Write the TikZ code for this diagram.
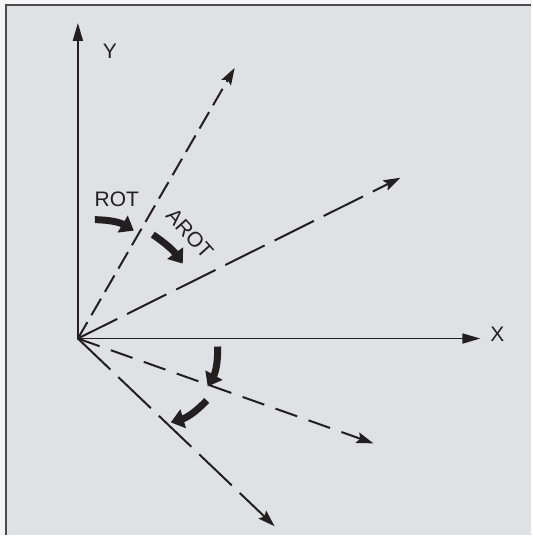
\documentclass[tikz,border=0pt]{standalone}
\usepackage{fontspec}
\newfontfamily\diagfont{Liberation Sans}
\usetikzlibrary{arrows.meta}
\definecolor{panel}{HTML}{E0E1E5}
\definecolor{ink}{HTML}{231F20}

\begin{document}
\begin{tikzpicture}[
  x=1pt, y=1pt,
  font=\diagfont\fontsize{21}{25}\selectfont,
  axis/.style={draw=ink, line width=1.8pt, -{Triangle[length=18pt,width=10pt]}},
  ray/.style={draw=ink, line width=2pt, -{Stealth[length=17pt,width=11pt,inset=3pt]}},
  turn/.style={draw=ink, line width=7pt, -{Triangle[length=13pt,width=19pt]}},
  lbl/.style={text=ink, inner sep=0pt}
]
  % frame
  \fill[gray!8] (-78,-197) rectangle (455,339);
  \fill[panel] (-72,-197) rectangle (454,334);
  \draw[gray!60!black, line width=1.5pt] (-72,-197) |- (454,334);
  \draw[white, line width=0.6pt] (454,334) -- (454,-197);
  \useasboundingbox (-78,-197) rectangle (455,339);

  \coordinate (O) at (0,0);
  \coordinate (ytip) at (0,316);
  \coordinate (xtip) at (403,0);
  \coordinate (r1) at (157,271);
  \coordinate (r2) at (323,161);
  \coordinate (r3) at (296,-105);
  \coordinate (r4) at (197,-188);

  % axes
  \draw[axis] (O) -- (ytip);
  \draw[axis] (O) -- (xtip);
  \node[lbl] (ylab) at (32,288) {Y};
  \node[lbl] (xlab) at (420,4) {X};

  % rotated axes
  \draw[ray, dash pattern=on 19pt off 8pt] (O) -- (r1);
  \draw[ray, dash pattern=on 44pt off 11pt] (O) -- (r2);
  \draw[ray, dash pattern=on 23pt off 12pt] (O) -- (r3);
  \draw[ray, dash pattern=on 45pt off 11pt] (O) -- (r4);

  % rotation arrows
  \coordinate (rotA) at (17,119);
  \coordinate (rotB) at (56,108);
  \coordinate (arotA) at (75,104);
  \coordinate (arotB) at (105,75);
  \coordinate (lowA) at (140,-8);
  \coordinate (lowB) at (130,-48);
  \coordinate (lowC) at (129,-62);
  \coordinate (lowD) at (93,-84);
  \draw[turn] (rotA) to[bend left=15] (rotB);
  \draw[turn] (arotA) to[bend left=10] (arotB);
  \draw[turn] (lowA) to[bend left=15] (lowB);
  \draw[turn] (lowC) to[bend left=15] (lowD);

  \node[lbl] (rot) at (39,139) {ROT};
  \node[lbl, rotate=-48] (arot) at (112,105) {AROT};
\end{tikzpicture}
\end{document}
